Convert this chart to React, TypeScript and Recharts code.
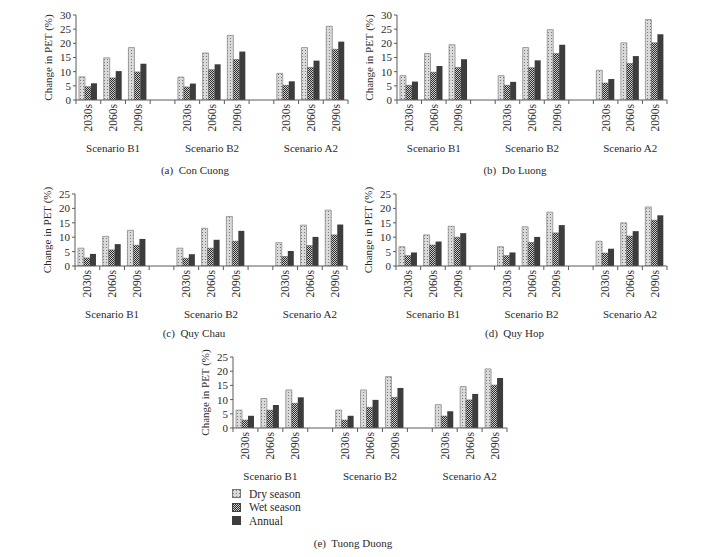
import React from 'react';
import { BarChart, Bar, XAxis, YAxis, Label } from 'recharts';

const FONT = '"Liberation Serif", "Times New Roman", serif';
const TXT = '#2a2a2a';
const AX = '#5a5a5a';

const periods = ['2030s', '2060s', '2090s', '', '2030s', '2060s', '2090s', '', '2030s', '2060s', '2090s'];
const scenarios = ['Scenario B1', 'Scenario B2', 'Scenario A2'];
const seriesNames = ['Dry season', 'Wet season', 'Annual'];

// order: B1 (2030s, 2060s, 2090s), B2 (...), A2 (...)
const conCuongDry = [8.2, 14.9, 18.5, 8.1, 16.6, 22.8, 9.4, 18.5, 26.0];
const conCuongWet = [4.7, 7.8, 9.9, 4.6, 10.7, 14.3, 5.2, 11.5, 17.9];
const conCuongAnnual = [5.9, 10.2, 12.8, 5.8, 12.6, 17.1, 6.6, 13.9, 20.6];

const doLuongDry = [8.6, 16.4, 19.5, 8.6, 18.5, 24.8, 10.5, 20.2, 28.4];
const doLuongWet = [5.2, 9.8, 11.5, 5.2, 11.4, 16.4, 6.0, 12.9, 20.2];
const doLuongAnnual = [6.5, 12.0, 14.4, 6.4, 14.0, 19.5, 7.4, 15.5, 23.2];

const quyChauDry = [6.2, 10.3, 12.4, 6.2, 13.1, 17.2, 8.1, 14.2, 19.4];
const quyChauWet = [2.8, 5.6, 7.2, 2.7, 6.2, 8.6, 3.3, 7.1, 10.8];
const quyChauAnnual = [4.2, 7.6, 9.4, 4.1, 9.1, 12.2, 5.2, 10.1, 14.4];

const quyHopDry = [6.7, 10.8, 13.8, 6.7, 13.6, 18.7, 8.6, 15.0, 20.5];
const quyHopWet = [3.6, 7.3, 10.0, 3.6, 8.2, 11.5, 4.5, 10.4, 15.9];
const quyHopAnnual = [4.7, 8.5, 11.4, 4.7, 10.1, 14.2, 6.0, 12.1, 17.6];

const tuongDuongDry = [6.3, 10.4, 13.4, 6.3, 13.4, 18.1, 8.2, 14.6, 20.8];
const tuongDuongWet = [2.8, 6.3, 8.7, 2.8, 7.3, 10.8, 4.2, 9.9, 15.1];
const tuongDuongAnnual = [4.3, 8.1, 10.8, 4.3, 9.9, 14.1, 5.9, 12.0, 17.6];

const ticks30 = [0, 5, 10, 15, 20, 25, 30];
const ticks25 = [0, 5, 10, 15, 20, 25];

function buildRows(dry: number[], wet: number[], annual: number[]) {
  const rows: any[] = [];
  let k = 0;
  periods.forEach((p, i) => {
    if (p === '') {
      rows.push({ key: 'gap' + i, dry: null, wet: null, annual: null });
    } else {
      rows.push({ key: 'c' + i, dry: dry[k], wet: wet[k], annual: annual[k] });
      k++;
    }
  });
  return rows;
}

const panels = [
  { id: 'a', title: '(a)  Con Cuong', dry: conCuongDry, wet: conCuongWet, annual: conCuongAnnual, yMax: 30, ticks: ticks30, left: 76, top: 15, width: 272, height: 85, titleY: 170 },
  { id: 'b', title: '(b)  Do Luong', dry: doLuongDry, wet: doLuongWet, annual: doLuongAnnual, yMax: 30, ticks: ticks30, left: 397, top: 15, width: 270, height: 85, titleY: 170 },
  { id: 'c', title: '(c)  Quy Chau', dry: quyChauDry, wet: quyChauWet, annual: quyChauAnnual, yMax: 25, ticks: ticks25, left: 75, top: 194, width: 272, height: 72, titleY: 333 },
  { id: 'd', title: '(d)  Quy Hop', dry: quyHopDry, wet: quyHopWet, annual: quyHopAnnual, yMax: 25, ticks: ticks25, left: 396, top: 194, width: 271, height: 72, titleY: 333 },
  { id: 'e', title: '(e)  Tuong Duong', dry: tuongDuongDry, wet: tuongDuongWet, annual: tuongDuongAnnual, yMax: 25, ticks: ticks25, left: 233, top: 357, width: 274, height: 71, titleY: 543 },
];

const Y_W = 45;
const M_TOP = 14;
const M_RIGHT = 6;
const X_H = 64;

function Patterns({ id }: { id: string }) {
  return (
    <defs>
      <pattern id={`dry-${id}`} width="3" height="3" patternUnits="userSpaceOnUse">
        <rect width="3" height="3" fill="#dadada" />
        <rect x="1" y="1" width="1" height="1" fill="#7a7a7a" />
      </pattern>
      <pattern id={`wet-${id}`} width="2" height="2" patternUnits="userSpaceOnUse">
        <rect width="2" height="2" fill="#cfcfcf" />
        <rect x="0" y="0" width="1" height="1" fill="#2a2a2a" />
        <rect x="1" y="1" width="1" height="1" fill="#2a2a2a" />
      </pattern>
    </defs>
  );
}

function PeriodTick(props: any) {
  const { x, y, payload, bw } = props;
  const idx = payload.index;
  const label = periods[idx];
  const scenIdx = idx === 1 ? 0 : idx === 5 ? 1 : idx === 9 ? 2 : -1;
  return (
    <g>
      <line x1={x - bw / 2} y1={y} x2={x - bw / 2} y2={y + 4} stroke={AX} strokeWidth={1} />
      {idx === periods.length - 1 && (
        <line x1={x + bw / 2} y1={y} x2={x + bw / 2} y2={y + 4} stroke={AX} strokeWidth={1} />
      )}
      {label !== '' && (
        <text
          x={x}
          y={y + 4}
          transform={`rotate(-90, ${x}, ${y + 4})`}
          textAnchor="end"
          dy="0.35em"
          fontSize={11.5}
          fontFamily={FONT}
          fill={TXT}
        >
          {label}
        </text>
      )}
      {scenIdx >= 0 && (
        <text x={x} y={y + 48} textAnchor="middle" dy="0.35em" fontSize={11} fontFamily={FONT} fill={TXT}>
          {scenarios[scenIdx]}
        </text>
      )}
    </g>
  );
}

function Panel({ p }: { p: any }) {
  const data = buildRows(p.dry, p.wet, p.annual);
  const bw = p.width / periods.length;
  return (
    <div style={{ position: 'absolute', left: p.left - Y_W, top: p.top - M_TOP }}>
      <BarChart
        width={Y_W + p.width + M_RIGHT}
        height={M_TOP + p.height + X_H}
        data={data}
        margin={{ top: M_TOP, right: M_RIGHT, left: 0, bottom: 0 }}
        barCategoryGap="12%"
        barGap={0}
      >
        <Patterns id={p.id} />
        <XAxis
          dataKey="key"
          interval={0}
          tickLine={false}
          tickSize={0}
          tickMargin={0}
          height={X_H}
          axisLine={{ stroke: AX }}
          tick={(tp: any) => <PeriodTick {...tp} bw={bw} />}
        />
        <YAxis
          domain={[0, p.yMax]}
          ticks={p.ticks}
          interval={0}
          width={Y_W}
          tickSize={3}
          tickMargin={2}
          tickLine={{ stroke: AX }}
          axisLine={{ stroke: AX }}
          tick={{ fill: TXT, fontSize: 11, fontFamily: FONT }}
          allowDataOverflow
        >
          <Label
            value="Change in PET (%)"
            angle={-90}
            position="insideLeft"
            offset={17}
            style={{ textAnchor: 'middle', fontSize: 11, fontFamily: FONT, fill: TXT }}
          />
        </YAxis>
        <Bar dataKey="dry" name={seriesNames[0]} fill={`url(#dry-${p.id})`} stroke="#808080" strokeWidth={0.7} isAnimationActive={false} />
        <Bar dataKey="wet" name={seriesNames[1]} fill={`url(#wet-${p.id})`} stroke="#555" strokeWidth={0.5} isAnimationActive={false} />
        <Bar dataKey="annual" name={seriesNames[2]} fill="#3d3d3d" isAnimationActive={false} />
      </BarChart>
    </div>
  );
}

function LegendSwatch({ kind }: { kind: number }) {
  return (
    <svg width={9} height={9} style={{ display: 'block' }}>
      <Patterns id={`lg${kind}`} />
      {kind === 0 && <rect x={0.5} y={0.5} width={8} height={8} fill="url(#dry-lg0)" stroke="#777" />}
      {kind === 1 && <rect x={0.5} y={0.5} width={8} height={8} fill="url(#wet-lg1)" stroke="#444" />}
      {kind === 2 && <rect x={0} y={0} width={9} height={9} fill="#3d3d3d" />}
    </svg>
  );
}

export default function App() {
  return (
    <div style={{ position: 'absolute', left: 0, top: 0, width: 724, height: 557, background: '#fff', fontFamily: FONT, color: TXT }}>
      {panels.map((p) => (
        <Panel key={p.id} p={p} />
      ))}
      {panels.map((p) => (
        <div
          key={'t' + p.id}
          style={{
            position: 'absolute',
            left: p.left + p.width / 2 - 17 - 100,
            top: p.titleY - 8,
            width: 200,
            textAlign: 'center',
            fontSize: 11,
            lineHeight: '16px',
            whiteSpace: 'pre',
          }}
        >
          {p.title}
        </div>
      ))}
      <div style={{ position: 'absolute', left: 232, top: 487 }}>
        {seriesNames.map((n, i) => (
          <div key={n} style={{ display: 'flex', alignItems: 'center', height: 13.5, fontSize: 11.5 }}>
            <LegendSwatch kind={i} />
            <span style={{ marginLeft: 8 }}>{n}</span>
          </div>
        ))}
      </div>
    </div>
  );
}
